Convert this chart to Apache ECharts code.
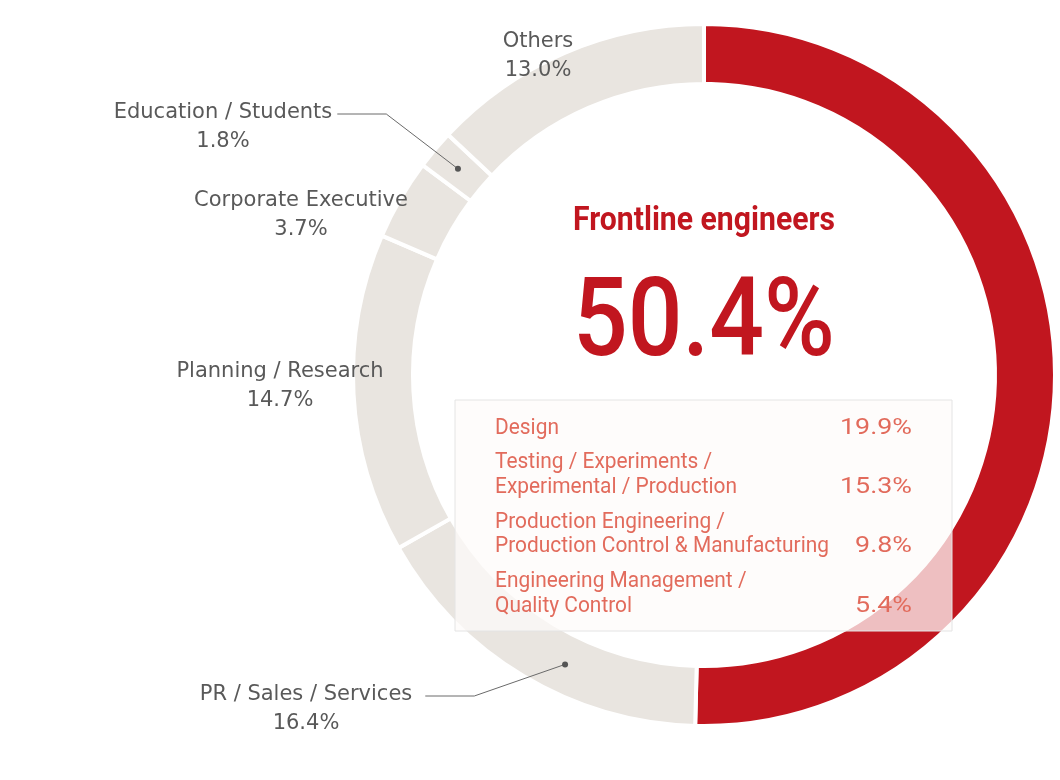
<!DOCTYPE html>
<html><head><meta charset="utf-8">
<script src="https://cdn.jsdelivr.net/npm/echarts@6/dist/echarts.min.js"></script>
<style>html,body{margin:0;padding:0;background:#fff}#c{width:1060px;height:780px}</style>
</head><body><div id="c"></div><script>
// ---- data ----
const categories = ['Frontline engineers', 'PR / Sales / Services', 'Planning / Research', 'Corporate Executive', 'Education / Students', 'Others'];
const shares = [50.4, 16.4, 14.7, 3.7, 1.8, 13.0];
const breakdownNames = ['Design', 'Testing / Experiments /\nExperimental / Production', 'Production Engineering /\nProduction Control & Manufacturing', 'Engineering Management /\nQuality Control'];
const breakdownValues = [19.9, 15.3, 9.8, 5.4];
const highlightIndex = 0;

// ---- styles / layout ----
const RED = '#C1161F', BEIGE = '#E9E5E0', GRAY = '#595959', SALMON = '#E26B5C';
const CX = 704, CY = 375, R_IN = 293, R_OUT = 349, BORDER = 4;
const LABEL_FONT = 'DejaVu Sans', LABEL_SIZE = 21;
const labelPos = {
  1: { x: 306, y: 709, line: true, anchor: 0.41, pad: 13 },
  2: { x: 280, y: 386 },
  3: { x: 301, y: 215 },
  4: { x: 223, y: 127, line: true, anchor: 0.5, pad: 5 },
  5: { x: 538, y: 56 }
};

const total = shares.reduce((a, b) => a + b, 0);
function pointAt(index, frac, r) {
  let cum = 0;
  for (let i = 0; i < index; i++) cum += shares[i];
  const f = (cum + shares[index] * frac) / total;
  const a = f * Math.PI * 2;
  return [CX + r * Math.sin(a), CY - r * Math.cos(a)];
}
const ctx = document.createElement('canvas').getContext('2d');
function textWidth(t, font) { ctx.font = font; return ctx.measureText(t).width; }

const chart = echarts.init(document.getElementById('c'), null, { renderer: 'canvas' });

const data = categories.map((name, i) => ({
  name, value: shares[i],
  itemStyle: { color: i === highlightIndex ? RED : BEIGE },
  label: { show: i !== highlightIndex }
}));

const graphics = [];
// leader lines with dots
Object.keys(labelPos).forEach(k => {
  const lp = labelPos[k];
  if (!lp.line) return;
  const p = pointAt(+k, lp.anchor, (R_IN + R_OUT) / 2);
  const w = textWidth(categories[+k], LABEL_SIZE + 'px "' + LABEL_FONT + '"');
  const endX = lp.x + w / 2 + lp.pad;
  const ly = lp.y - 13;
  graphics.push({ type: 'polyline', z: 50, shape: { points: [[endX, ly], [endX + 49, ly], p] },
    style: { stroke: '#6a6a6a', lineWidth: 1, fill: null } });
  graphics.push({ type: 'circle', z: 51, shape: { cx: p[0], cy: p[1], r: 3 }, style: { fill: '#555' } });
});

// center headline
const titleFont = '700 34px Roboto';
const titleScale = 262 / textWidth(categories[highlightIndex], titleFont);
graphics.push({ type: 'text', z: 50, x: CX, y: 221, scaleX: titleScale,
  style: { text: categories[highlightIndex], font: titleFont, fill: RED, align: 'center', verticalAlign: 'middle' } });
const bigText = shares[highlightIndex].toFixed(1) + '%';
const bigFont = '500 110px Roboto';
const bigScale = 262 / textWidth(bigText, bigFont);
graphics.push({ type: 'text', z: 50, x: CX, y: 327, scaleX: bigScale,
  style: { text: bigText, font: bigFont, fill: RED, align: 'center', verticalAlign: 'middle' } });

// breakdown box
const BOX = { x: 455, y: 400, w: 497, h: 231 };
graphics.push({ type: 'rect', z: 100, shape: { x: BOX.x, y: BOX.y, width: BOX.w, height: BOX.h },
  style: { fill: 'rgba(253,251,249,0.74)', stroke: '#e4e4e4', lineWidth: 1 } });
const boxFont = '400 22.5px Roboto';
const longest = breakdownNames.join('\n').split('\n').reduce((a, b) => textWidth(b, boxFont) > textWidth(a, boxFont) ? b : a, '');
const boxScale = 334 / textWidth(longest, boxFont);
const valScale = 72 / textWidth('19.9%', boxFont);
const rowStep = 59.3, firstRowY = 428, lineGap = 24.5;
breakdownNames.forEach((nm, i) => {
  const lines = nm.split('\n');
  const lastY = firstRowY + i * rowStep;
  lines.forEach((ln, k) => {
    graphics.push({ type: 'text', z: 110, x: BOX.x + 40, y: lastY - (lines.length - 1 - k) * lineGap, scaleX: boxScale,
      style: { text: ln, font: boxFont, fill: SALMON, align: 'left', verticalAlign: 'middle' } });
  });
  graphics.push({ type: 'text', z: 110, x: BOX.x + BOX.w - 40, y: lastY, scaleX: valScale,
    style: { text: breakdownValues[i].toFixed(1) + '%', font: boxFont, fill: SALMON, align: 'right', verticalAlign: 'middle' } });
});

chart.setOption({
  animation: false,
  backgroundColor: '#fff',
  graphic: { elements: graphics },
  series: [{
    type: 'pie',
    center: [CX, CY],
    radius: [R_IN - BORDER / 2, R_OUT + BORDER / 2],
    startAngle: 90,
    clockwise: true,
    avoidLabelOverlap: false,
    silent: true,
    itemStyle: { borderColor: '#fff', borderWidth: BORDER },
    label: {
      show: true, position: 'outside', color: GRAY, fontFamily: LABEL_FONT, fontSize: LABEL_SIZE, lineHeight: 29, align: 'center',
      formatter: p => p.name + '\n' + p.value.toFixed(1) + '%'
    },
    labelLine: { show: false },
    labelLayout: params => {
      const lp = labelPos[params.dataIndex];
      if (!lp) return {};
      return { x: lp.x, y: lp.y, align: 'center', verticalAlign: 'middle' };
    },
    data
  }]
});
</script></body></html>
